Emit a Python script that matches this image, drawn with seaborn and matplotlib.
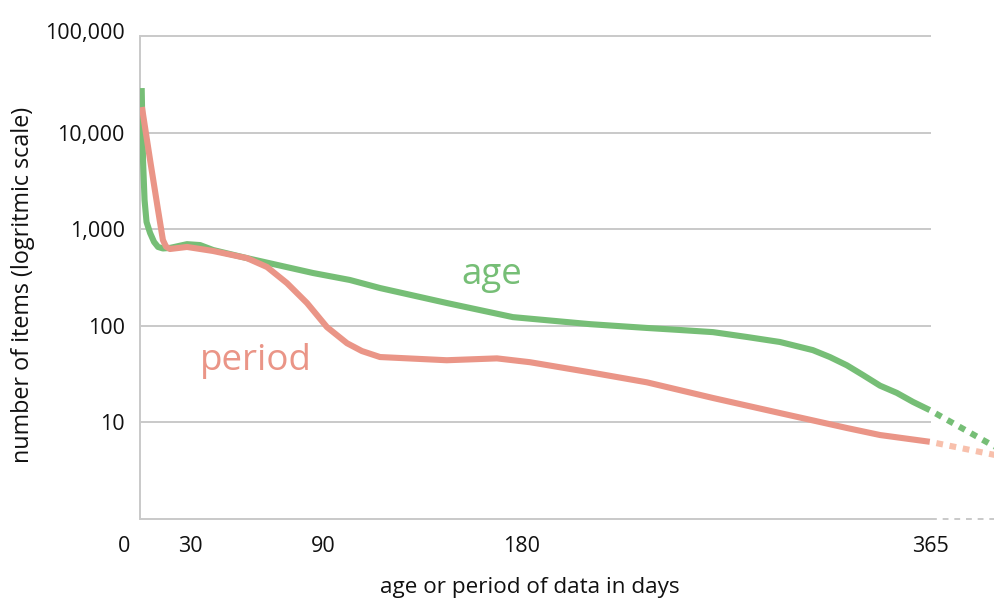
import numpy as np
import pandas as pd
import matplotlib
matplotlib.use("Agg")
import matplotlib.pyplot as plt
import matplotlib.transforms as mtransforms
import seaborn as sns

# ---- data -------------------------------------------------------------
age_days = [8.0, 8.6, 9.3, 10.2, 11.8, 13.6, 15.4, 17.6, 20.8, 28.5, 34.4,
            40.3, 55.6, 85.5, 102.2, 115.8, 146.1, 175.9, 210.8, 236.5,
            251.5, 266.4, 281.8, 296.7, 311.6, 319.3, 327.0, 334.2, 342.0,
            349.6, 356.9, 364.5]
age_items = [28900, 5200, 2005, 1188, 914, 738, 655, 632, 640, 700, 685,
             609, 502, 352, 298, 246, 172, 123, 104, 95,
             90.5, 86, 76.6, 68, 56, 47.5, 39, 31, 24,
             20.2, 16.3, 13.4]

period_days = [8.1, 11.8, 15.4, 17.6, 19.0, 20.8, 28.5, 40.3, 55.6, 64.7,
               73.7, 82.8, 91.8, 100.9, 107.6, 115.8, 146.0, 168.7, 183.6,
               210.8, 236.5, 266.4, 296.7, 327.0, 342.0, 364.5]
period_items = [18400, 5200, 1580, 773, 660, 624, 655, 595, 502, 406,
                277, 172, 97, 66, 54.8, 47.5, 44, 46, 42,
                33, 26, 17.9, 12.5, 8.75, 7.4, 6.3]

# projection beyond one year (dotted)
age_proj_days = [364.5, 394.0]
age_proj_items = [13.4, 5.6]
period_proj_days = [364.5, 394.0]
period_proj_items = [6.3, 4.6]

x_ticks = [30, 90, 180, 365]
x_tick_labels = ["30", "90", "180", "365"]
y_ticks = [10, 100, 1000, 10000, 100000]
y_tick_labels = ["10", "100", "1,000", "10,000", "100,000"]

# ---- style ------------------------------------------------------------
sns.set_theme(style="white")
plt.rcParams["font.family"] = ["Open Sans", "DejaVu Sans"]

GREEN = "#76be76"
SALMON = "#ea9587"
SALMON_LIGHT = "#f8c0ac"
GRID = "#c9c9c9"
TEXT = "#111111"

fig = plt.figure(figsize=(9.95, 5.98), dpi=100)
W, H = 995, 598
ax = fig.add_axes([140 / W, 1 - 519 / H, (995 - 140) / W, (519 - 36) / H])

ax.set_yscale("log")
ax.set_xlim(7.24, 394.0)
ax.set_ylim(1, 100000)

# grid lines, drawn only across the measured year
ax.hlines([1] + y_ticks, 7.24, 365, colors=GRID, linewidth=1.4,
          clip_on=False, zorder=1)
ax.hlines(1, 365, 394, colors=GRID, linewidth=1.4, linestyles=(0, (3, 3)),
          clip_on=False, zorder=1)

age_df = pd.DataFrame({"day": age_days, "items": age_items})
period_df = pd.DataFrame({"day": period_days, "items": period_items})
age_proj = pd.DataFrame({"day": age_proj_days, "items": age_proj_items})
period_proj = pd.DataFrame({"day": period_proj_days, "items": period_proj_items})

LW = 4.4
sns.lineplot(data=age_df, x="day", y="items", ax=ax, color=GREEN,
             linewidth=LW, sort=False, zorder=3)
sns.lineplot(data=period_df, x="day", y="items", ax=ax, color=SALMON,
             linewidth=LW, sort=False, zorder=4)
for line in ax.lines[:2]:
    line.set_solid_joinstyle("round")
    line.set_solid_capstyle("butt")

sns.lineplot(data=age_proj, x="day", y="items", ax=ax, color=GREEN,
             linewidth=LW, zorder=3)
sns.lineplot(data=period_proj, x="day", y="items", ax=ax, color=SALMON_LIGHT,
             linewidth=LW, zorder=3)
for line in ax.lines[-2:]:
    # offset so a small gap follows the solid line
    line.set_linestyle((1.1, (1.1, 1.1)))
    line.set_dash_capstyle("butt")

# series labels
ax.text(166.4, 336, "age", color=GREEN, fontsize=26.5, ha="center", va="center")
ax.text(59.7, 43, "period", color=SALMON, fontsize=26.5, ha="center", va="center")

# axes styling
for side in ["top", "right", "bottom"]:
    ax.spines[side].set_visible(False)
ax.spines["left"].set_color(GRID)
ax.spines["left"].set_linewidth(1.4)
ax.grid(False)

ax.set_xticks(x_ticks)
ax.set_xticklabels(x_tick_labels)
ax.set_yticks(y_ticks)
ax.set_yticklabels(y_tick_labels)
ax.minorticks_off()
PAD = 12
ax.tick_params(axis="x", length=0, pad=PAD, labelsize=15.5, labelcolor=TEXT)
ax.tick_params(axis="y", length=0, pad=11, labelsize=15.5, labelcolor=TEXT)

# "0" sits left of the plotted range
zero_tf = mtransforms.blended_transform_factory(ax.transData, ax.transAxes) + \
    mtransforms.ScaledTranslation(0, -PAD / 72, fig.dpi_scale_trans)
ax.text(0, 0, "0", transform=zero_tf, ha="center", va="top",
        fontsize=15.5, color=TEXT, clip_on=False)

# lift the top label slightly
top_lbl = ax.get_yticklabels()[-1]
top_lbl.set_transform(top_lbl.get_transform() +
                      mtransforms.ScaledTranslation(0, 5 / 100, fig.dpi_scale_trans))

ax.set_xlabel("")
ax.set_ylabel("")
fig.text(530 / W, 1 - 588 / H, "age or period of data in days", ha="center",
         va="center", fontsize=16.2, color=TEXT)
fig.text(23 / W, 1 - 285 / H, "number of items (logritmic scale)", ha="center",
         va="center", rotation=90, fontsize=16.8, color=TEXT)

fig.savefig("out.png", dpi=100)
